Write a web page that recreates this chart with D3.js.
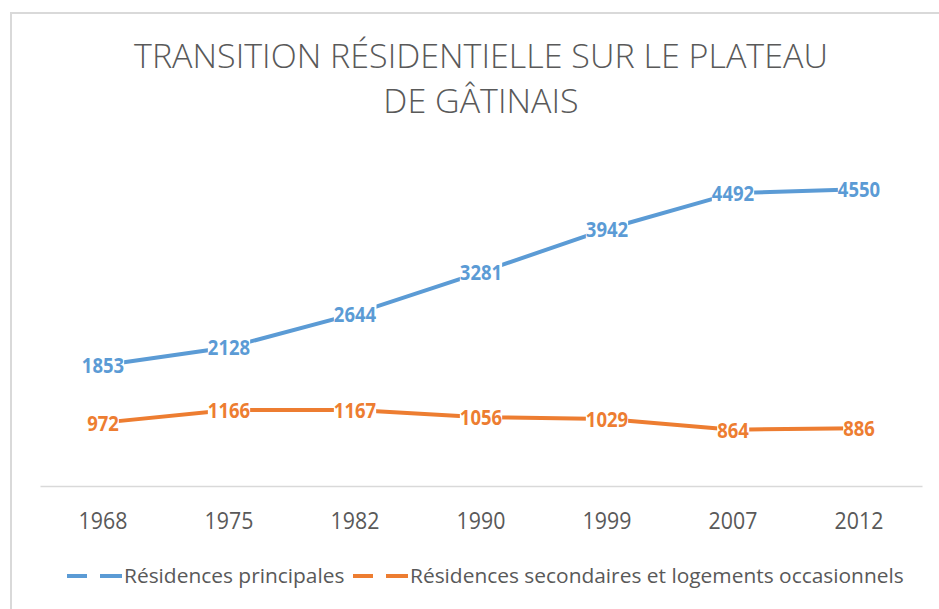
<!DOCTYPE html>
<html>
<head>
<meta charset="utf-8">
<script src="https://cdn.jsdelivr.net/npm/d3@7"></script>
<style>
  body { margin: 0; background: #fff; }
  svg { display: block; }
</style>
</head>
<body>
<div id="container"></div>
<script>
// DATA ###############################
const years = ["1968", "1975", "1982", "1990", "1999", "2007", "2012"];
const principales = [1853, 2128, 2644, 3281, 3942, 4492, 4550];
const secondaires = [972, 1166, 1167, 1056, 1029, 864, 886];
const seriesNames = ["Résidences principales", "Résidences secondaires et logements occasionnels"];
const seriesColors = ["#5B9BD5", "#ED7D31"];
const titleLines = ["TRANSITION RÉSIDENTIELLE SUR LE PLATEAU", "DE GÂTINAIS"];

// CONSTANTS ###############################
const width = 939, height = 609;
const margin = { top: 160, left: 40, right: 17, bottom: 123 };
const font = "Open Sans, sans-serif";
const textGray = "#595959";

// squeeze text horizontally (reference font is narrower than Open Sans)
function squeeze(sel, k) {
  sel.each(function() {
    const len = this.getComputedTextLength();
    d3.select(this)
      .attr("textLength", len * k)
      .attr("lengthAdjust", "spacingAndGlyphs");
  });
}

const svg = d3.select("#container")
  .append("svg")
  .attr("width", width)
  .attr("height", height);

// chart border
svg.append("rect")
  .attr("x", 11).attr("y", 13)
  .attr("width", width + 20).attr("height", height + 20)
  .attr("fill", "#fff")
  .attr("stroke", "#d9d9d9")
  .attr("stroke-width", 2);

// SCALES ----------------------------------
const xScale = d3.scaleBand()
  .domain(years)
  .range([margin.left, width - margin.right]);

const yScale = d3.scaleLinear()
  .domain([0, 5000])
  .range([height - margin.bottom, margin.top]);

// TITLE
svg.append("g").selectAll("text")
  .data(titleLines)
  .join("text")
  .attr("x", 481)
  .attr("y", (d, i) => 68 + i * 45)
  .attr("text-anchor", "middle")
  .attr("font-family", font)
  .attr("font-weight", 300)
  .attr("font-size", 33.5)
  .attr("fill", textGray)
  .text(d => d)
  .call(squeeze, 1.016);

// X AXIS
const xAxis = svg.append("g")
  .attr("transform", `translate(0,${yScale(0)})`)
  .call(d3.axisBottom(xScale).tickSize(0).tickPadding(0));
xAxis.select(".domain").attr("stroke", "#d9d9d9").attr("stroke-width", 1.5);
xAxis.selectAll("text")
  .attr("y", 34)
  .attr("dy", "0.36em")
  .attr("font-family", font)
  .attr("font-size", 24.5)
  .attr("fill", textGray)
  .call(squeeze, 0.87);

// LINES
const series = [principales, secondaires];
const line = d3.line()
  .x((d, i) => xScale(years[i]) + xScale.bandwidth() / 2)
  .y(d => yScale(d));

series.forEach((vals, s) => {
  svg.append("path")
    .datum(vals)
    .attr("fill", "none")
    .attr("stroke", seriesColors[s])
    .attr("stroke-width", 4)
    .attr("d", line);

  const lab = svg.append("g").selectAll("g")
    .data(vals)
    .join("g")
    .attr("transform", (d, i) => `translate(${xScale(years[i]) + xScale.bandwidth() / 2},${yScale(d)})`);

  lab.append("text")
    .attr("text-anchor", "middle")
    .attr("dy", "0.36em")
    .attr("font-family", font)
    .attr("font-weight", 700)
    .attr("font-size", 22)
    .attr("fill", seriesColors[s])
    .text(d => d)
    .call(squeeze, 0.84);

  // white box behind the label so the line stops at it
  lab.each(function() {
    const t = d3.select(this).select("text");
    const bb = t.node().getBBox();
    d3.select(this).insert("rect", "text")
      .attr("x", bb.x).attr("y", bb.y + 5)
      .attr("width", bb.width).attr("height", bb.height - 10)
      .attr("fill", "#fff");
  });
});

// LEGEND
const legendX = [67, 353];
const legend = svg.append("g").selectAll("g")
  .data(seriesNames)
  .join("g")
  .attr("transform", (d, i) => `translate(${legendX[i]},576)`);

legend.append("line")
  .attr("x1", 0).attr("x2", 55)
  .attr("stroke", (d, i) => seriesColors[i])
  .attr("stroke-width", 4)
  .attr("stroke-dasharray", "20,13,22");

legend.append("text")
  .attr("x", 57)
  .attr("dy", "0.36em")
  .attr("font-family", font)
  .attr("font-size", 20)
  .attr("fill", textGray)
  .text(d => d)
  .call(squeeze, 1.045);
</script>
</body>
</html>
